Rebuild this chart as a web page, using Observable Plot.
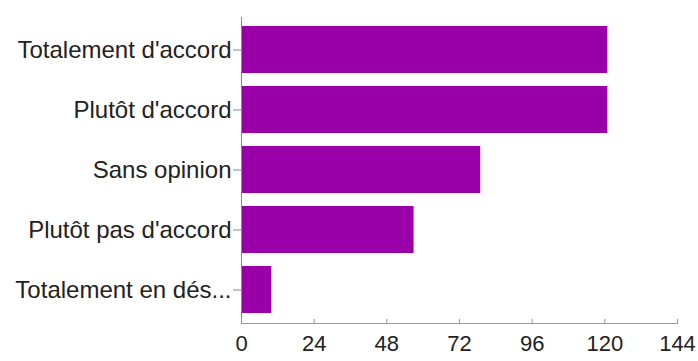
<!DOCTYPE html>
<html>
<head>
<meta charset="utf-8">
<script src="https://cdn.jsdelivr.net/npm/d3@7"></script>
<script src="https://cdn.jsdelivr.net/npm/@observablehq/plot@0.6"></script>
<style>
  html, body { margin: 0; padding: 0; background: #fff; }
  #chart { width: 698px; height: 361px; }
</style>
</head>
<body>
<div id="chart"></div>
<script>
const categories = ["Totalement d'accord", "Plutôt d'accord", "Sans opinion", "Plutôt pas d'accord", "Totalement en dés..."];
const counts = [121, 121, 79, 57, 10];
const xTicks = [0, 24, 48, 72, 96, 120, 144];

const data = categories.map((c, i) => ({category: c, count: counts[i]}));

const chart = Plot.plot({
  width: 698,
  height: 361,
  marginTop: 17,
  marginBottom: 38,
  marginLeft: 241,
  marginRight: 21,
  style: {fontFamily: "'Liberation Sans', Arial, sans-serif", color: "#222", background: "#fff"},
  x: {domain: [0, 144], ticks: xTicks, label: null},
  y: {domain: categories, paddingInner: 0.214, paddingOuter: 0.15, label: null},
  marks: [
    Plot.barX(data, {y: "category", x: "count", fill: "#9900a8"}),
    Plot.ruleX([0], {stroke: "#888", strokeWidth: 1}),
    Plot.frame({anchor: "bottom", stroke: "#999"}),
    Plot.axisY({tickSize: 8, tickPadding: 2, fontSize: 24, stroke: "#888", fill: "#222", label: null}),
    Plot.axisX({ticks: xTicks, tickSize: -4, tickPadding: 16, fontSize: 22, stroke: "#999", fill: "#222", label: null})
  ]
});
document.getElementById("chart").appendChild(chart);
</script>
</body>
</html>
